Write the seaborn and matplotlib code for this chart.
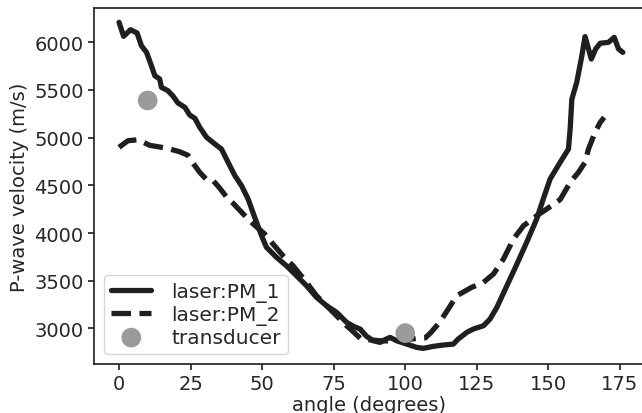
import matplotlib
matplotlib.use("Agg")
import matplotlib.pyplot as plt
import seaborn as sns
import pandas as pd

pm1_angle = [0, 1.6, 4, 6.3, 7.8, 9.6, 11.3, 12.5, 14.2, 14.8, 17.1, 18.9, 20.6, 23, 24.7,
             26.5, 28.2, 30.6, 33.5, 35.8, 38.1, 40.5, 42.8, 45.1, 47.4, 49.8, 51.5, 55,
             58.5, 62, 65.5, 69, 72.5, 76, 79.5, 82, 84.2, 86.5, 88.8, 91.2, 92.9, 94.7,
             97, 100.5, 104, 106.3, 109.8, 113.3, 116.8, 118.5, 121.5, 123.8, 127.3, 129.6,
             132, 135.5, 139, 142.4, 145.9, 148.2, 150.6, 154.1, 157, 157.6, 158.2, 159.9,
             161.7, 162.8, 165, 166.5, 168.1, 171, 173, 174.5, 176]
pm1_vel = [6210, 6063, 6132, 6098, 5965, 5895, 5755, 5650, 5615, 5528, 5492, 5434, 5363, 5318, 5237,
           5203, 5108, 5003, 4933, 4880, 4741, 4600, 4496, 4356, 4164, 3971, 3850, 3745,
           3656, 3552, 3447, 3325, 3237, 3168, 3063, 3020, 2993, 2916, 2870, 2853, 2881, 2905,
           2870, 2835, 2800, 2790, 2811, 2825, 2835, 2888, 2958, 2993, 3027, 3097,
           3220, 3447, 3674, 3902, 4146, 4356, 4566, 4741, 4880, 5090, 5405, 5580,
           5860, 6060, 5825, 5930, 5990, 6000, 6052, 5930, 5895]

pm2_angle = [0, 3.1, 6.6, 10.7, 14.8, 17.7, 21.2, 24.1, 25.9, 28.2, 30.6, 32.9, 35.2, 38.1, 39.9,
             43.4, 46.9, 50.9, 53.8, 57.3, 60.8, 65.5, 69, 74.8, 79.5, 82, 84.5, 88, 92, 96,
             100, 104, 107, 109, 112, 115, 118, 123.2, 127.3, 130.8, 134.3, 137.8, 141.3,
             145.9, 149.4, 154.1, 157.6, 160.5, 162.8, 164, 166.3, 168.1, 169.5]
pm2_vel = [4899, 4968, 4978, 4920, 4899, 4881, 4852, 4815, 4730, 4636, 4559, 4548, 4470, 4356, 4310,
           4199, 4094, 3989, 3884, 3761, 3656, 3482, 3342, 3168, 3027, 2960, 2890, 2878, 2868, 2870,
           2880, 2895, 2900, 2958, 3063, 3202, 3342, 3430, 3482, 3570, 3727, 3937, 4076,
           4181, 4251, 4350, 4531, 4636, 4741, 4880, 5056, 5160, 5213]

trans_angle = [10, 100]
trans_vel = [5390, 2950]

labels = ["laser:PM_1", "laser:PM_2", "transducer"]

sns.set_theme(style="ticks")
plt.rcParams["font.family"] = ["DejaVu Sans"]
plt.rcParams["font.size"] = 14

fig = plt.figure(figsize=(6.42, 4.14), dpi=100)
ax = fig.add_axes([94 / 642, 1 - 365 / 414, (645 - 94) / 642, (365 - 9) / 414])

line_color = "#1f1f1f"
df1 = pd.DataFrame({"angle": pm1_angle, "vel": pm1_vel})
df2 = pd.DataFrame({"angle": pm2_angle, "vel": pm2_vel})
dft = pd.DataFrame({"angle": trans_angle, "vel": trans_vel})

sns.lineplot(data=df1, x="angle", y="vel", ax=ax, color=line_color, lw=3.8,
             label=labels[0], sort=False)
sns.lineplot(data=df2, x="angle", y="vel", ax=ax, color=line_color, lw=3.8,
             linestyle="--", label=labels[1], sort=False)
sns.scatterplot(data=dft, x="angle", y="vel", ax=ax, color="#9a9a9a", s=200,
                edgecolor="none", label=labels[2], zorder=3)

ax.set_xlim(-8.75, 183.75)
ax.set_ylim(2626, 6360)
ax.set_xticks([0, 25, 50, 75, 100, 125, 150, 175])
ax.set_yticks([3000, 3500, 4000, 4500, 5000, 5500, 6000])
ax.tick_params(labelsize=14, length=4)
ax.set_xlabel("angle (degrees)", fontsize=14, labelpad=1)
ax.set_ylabel("P-wave velocity (m/s)", fontsize=14)

ax.legend(loc="lower left", fontsize=14.5, frameon=True, borderaxespad=0.5,
          handletextpad=1.0, labelspacing=0.15, borderpad=0.35)

fig.savefig("out.png", dpi=100)
